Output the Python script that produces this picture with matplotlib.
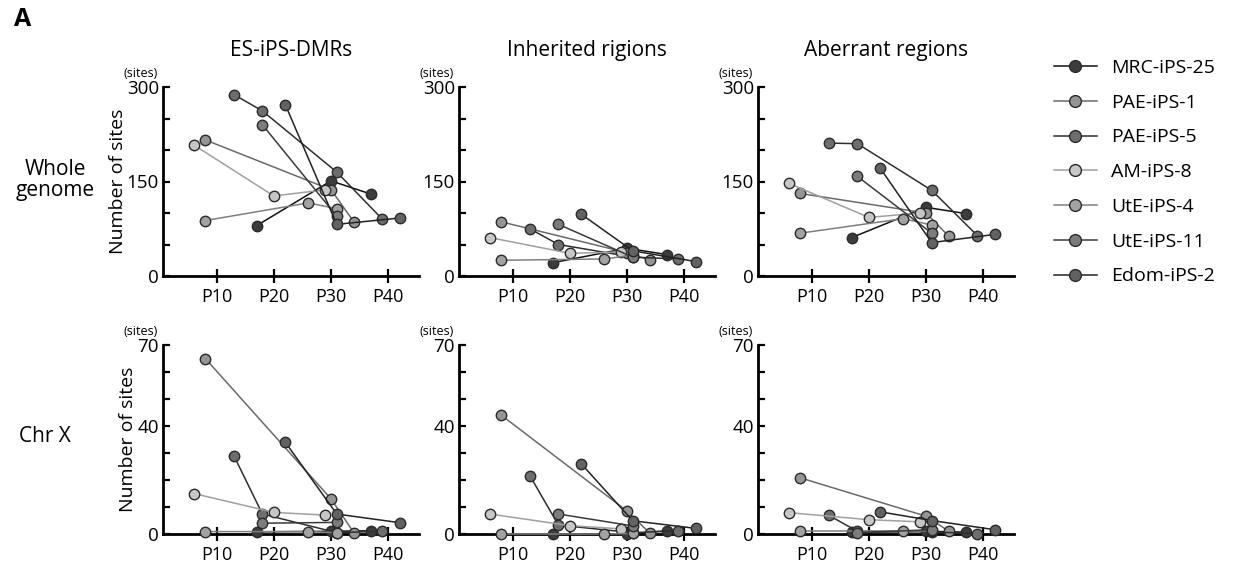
import matplotlib.pyplot as plt
from matplotlib.lines import Line2D

plt.rcParams['font.family'] = ['Open Sans', 'DejaVu Sans']

lines_names = ['MRC-iPS-25', 'PAE-iPS-1', 'PAE-iPS-5', 'AM-iPS-8', 'UtE-iPS-4', 'UtE-iPS-11', 'Edom-iPS-2']
passages = {
    'MRC-iPS-25': [17, 30, 37],
    'PAE-iPS-1': [8, 30, 34],
    'PAE-iPS-5': [13, 18, 31, 39],
    'AM-iPS-8': [6, 20, 29],
    'UtE-iPS-4': [8, 26, 31],
    'UtE-iPS-11': [18, 31],
    'Edom-iPS-2': [22, 31, 42],
}

# whole genome
whole_dmr = {
    'MRC-iPS-25': [80, 151, 130],
    'PAE-iPS-1': [216, 137, 86],
    'PAE-iPS-5': [288, 262, 165, 90],
    'AM-iPS-8': [208, 127, 137],
    'UtE-iPS-4': [88, 116, 107],
    'UtE-iPS-11': [240, 95],
    'Edom-iPS-2': [272, 82, 92],
}
whole_inh = {
    'MRC-iPS-25': [21, 44, 34],
    'PAE-iPS-1': [86, 37, 25],
    'PAE-iPS-5': [75, 50, 30, 27],
    'AM-iPS-8': [61, 36, 38],
    'UtE-iPS-4': [25, 27, 33],
    'UtE-iPS-11': [82, 30],
    'Edom-iPS-2': [98, 40, 23],
}
whole_abe = {
    'MRC-iPS-25': [61, 109, 99],
    'PAE-iPS-1': [131, 100, 63],
    'PAE-iPS-5': [211, 210, 136, 64],
    'AM-iPS-8': [147, 93, 100],
    'UtE-iPS-4': [68, 91, 81],
    'UtE-iPS-11': [158, 68],
    'Edom-iPS-2': [171, 53, 66],
}

# chromosome X
chrx_dmr = {
    'MRC-iPS-25': [0.8, 1.0, 1.2],
    'PAE-iPS-1': [65, 13, 0.5],
    'PAE-iPS-5': [29, 7.4, 0.5, 1.0],
    'AM-iPS-8': [15, 8, 7],
    'UtE-iPS-4': [0.9, 0.9, 0.5],
    'UtE-iPS-11': [4, 4.3],
    'Edom-iPS-2': [34, 7.4, 4.2],
}
chrx_inh = {
    'MRC-iPS-25': [0, 0, 1.2],
    'PAE-iPS-1': [44, 8.5, 0.3],
    'PAE-iPS-5': [21.6, 3.3, 0.5, 1.2],
    'AM-iPS-8': [7.4, 3.1, 1.9],
    'UtE-iPS-4': [0, 0, 0.2],
    'UtE-iPS-11': [7.4, 3.0],
    'Edom-iPS-2': [26, 4.9, 2.1],
}
chrx_abe = {
    'MRC-iPS-25': [0.6, 1.0, 0.7],
    'PAE-iPS-1': [20.8, 6.6, 1.0],
    'PAE-iPS-5': [6.9, 1.0, 0.8, 0.1],
    'AM-iPS-8': [7.9, 5.3, 4.5],
    'UtE-iPS-4': [1.0, 1.0, 1.0],
    'UtE-iPS-11': [0.5, 1.6],
    'Edom-iPS-2': [8.2, 5.0, 1.6],
}

col_titles = ['ES-iPS-DMRs', 'Inherited rigions', 'Aberrant regions']
row_labels = ['Whole\ngenome', 'Chr X']
panels = [[whole_dmr, whole_inh, whole_abe], [chrx_dmr, chrx_inh, chrx_abe]]
x_ticks = [10, 20, 30, 40]
x_ticklabels = ['P10', 'P20', 'P30', 'P40']

face = {'MRC-iPS-25': '#3c3c3c', 'PAE-iPS-1': '#959595', 'PAE-iPS-5': '#6e6e6e',
        'AM-iPS-8': '#c6c6c6', 'UtE-iPS-4': '#a2a2a2', 'UtE-iPS-11': '#7c7c7c',
        'Edom-iPS-2': '#626262'}
linec = {'MRC-iPS-25': '#101010', 'PAE-iPS-1': '#6a6a6a', 'PAE-iPS-5': '#2e2e2e',
         'AM-iPS-8': '#a0a0a0', 'UtE-iPS-4': '#7e7e7e', 'UtE-iPS-11': '#3a3a3a',
         'Edom-iPS-2': '#222222'}

W, H = 1234, 565
fig = plt.figure(figsize=(W / 100, H / 100), dpi=100)

lefts = [163, 459, 758]
tops = [87, 345]
aw, ah = 256, 189

for r in range(2):
    for c in range(3):
        ax = fig.add_axes([lefts[c] / W, 1 - (tops[r] + ah) / H, aw / W, ah / H])
        data = panels[r][c]
        for name in lines_names:
            ax.plot(passages[name], data[name], '-', color=linec[name], lw=1.1,
                    marker='o', ms=7.5, mfc=face[name], mec='#2a2a2a', mew=1.0,
                    clip_on=False, zorder=3)
        ax.set_xlim(0.6, 45.4)
        if r == 0:
            ax.set_ylim(0, 300)
            ax.set_yticks([0, 50, 100, 150, 200, 250, 300])
            ax.set_yticklabels(['0', '', '', '150', '', '', '300'])
        else:
            ax.set_ylim(0, 70)
            ax.set_yticks(range(0, 71, 10))
            ax.set_yticklabels(['0', '', '', '', '40', '', '', '70'])
        ax.set_xticks(x_ticks)
        ax.set_xticklabels(x_ticklabels)
        for s in ['top', 'right']:
            ax.spines[s].set_visible(False)
        for s in ['left', 'bottom']:
            ax.spines[s].set_linewidth(2.0)
        ax.tick_params(axis='y', direction='in', length=5, width=1.6, labelsize=13.5, pad=3)
        ax.tick_params(axis='x', direction='inout', length=10, width=1.6, labelsize=13, pad=4)
        ax.annotate('(sites)', xy=(0, 1), xycoords='axes fraction', xytext=(-22, 7),
                    textcoords='offset pixels', ha='center', va='bottom', fontsize=9)
        if c == 0:
            ax.set_ylabel('Number of sites', fontsize=14, labelpad=0)
        if r == 0:
            ax.set_title(col_titles[c], fontsize=15, pad=22)

fig.text(55 / W, 1 - 180 / H, row_labels[0], ha='center', va='center', fontsize=15, linespacing=1.0)
fig.text(45 / W, 1 - 437 / H, row_labels[1], ha='center', va='center', fontsize=15)
fig.text(14 / W, 1 - 20 / H, 'A', ha='left', va='center', fontsize=18, fontweight='bold')

handles = [Line2D([], [], color=linec[n], lw=1.1, marker='o', ms=8.5, mfc=face[n],
                  mec='#2a2a2a', mew=1.0) for n in lines_names]
fig.legend(handles, lines_names, loc='upper left', bbox_to_anchor=(1054 / W, 1 - 59 / H),
           frameon=False, fontsize=14, handlelength=2.2, handletextpad=0.75,
           labelspacing=0.86, borderpad=0, borderaxespad=0)

fig.savefig('out.png', dpi=100)
